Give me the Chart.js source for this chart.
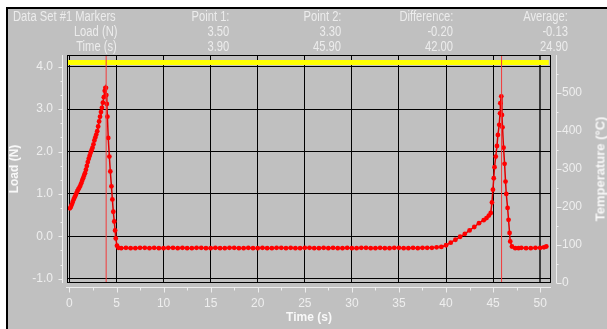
<!DOCTYPE html>
<html>
<head>
<meta charset="utf-8">
<script src="https://cdn.jsdelivr.net/npm/chart.js@4/dist/chart.umd.min.js"></script>
<style>
  html,body{margin:0;padding:0;background:#fff;width:607px;height:329px;overflow:hidden;}
  #frame{position:absolute;left:6px;top:7px;width:601px;height:322px;background:#c0c0c0;border-left:2px solid #000;border-top:2px solid #000;box-sizing:border-box;}
  #c{position:absolute;left:0;top:0;}
  .h{position:absolute;font-family:'Liberation Sans',Arial,sans-serif;font-size:14px;color:#ececec;white-space:nowrap;line-height:14px;transform:scaleX(0.8);}
  .l{transform-origin:left center;}
  .r{transform-origin:right center;}
  #ytitle2{position:absolute;left:600px;top:169px;transform:translate(-50%,-50%) rotate(-90deg);font:bold 13px 'Liberation Sans',Arial,sans-serif;color:#f8f8f8;white-space:nowrap;}
</style>
</head>
<body>
<div id="frame"></div>
<canvas id="c" width="607" height="329"></canvas>
<div id="hdr"></div>
<div id="ytitle2">Temperature (°C)</div>
<script>
// ---------------- data ----------------
const headerTitle = 'Data Set #1 Markers';
const headerCols = ['Point 1:', 'Point 2:', 'Difference:', 'Average:'];
const rowNames = ['Load (N)', 'Time (s)'];
const loadRow = ['3.50', '3.30', '-0.20', '-0.13'];
const timeRow = ['3.90', '45.90', '42.00', '24.90'];

const xTicks = [0, 5, 10, 15, 20, 25, 30, 35, 40, 45, 50];
const yTicks = [-1, 0, 1, 2, 3, 4];
const y2Ticks = [0, 100, 200, 300, 400, 500];

const markerTimes = [3.9, 45.9];

const tempTime = [0, 50.65];
const tempValue = [581, 581];

const loadTime = [
  0.05,0.15,0.25,0.35,0.45,0.55,0.65,0.75,0.85,0.95,
  1.05,1.15,1.25,1.35,1.45,1.55,1.65,1.75,1.85,1.95,
  2.05,2.15,2.25,2.35,2.45,2.55,2.65,2.75,2.85,2.95,
  3.05,3.15,3.25,3.35,3.45,3.55,3.65,3.75,3.82,3.88,
  3.92,3.97,4.03,4.12,4.24,4.34,4.46,4.56,4.66,4.76,4.85,4.92,5.05,5.2,
  5.5,6,6.5,7,7.5,8,8.5,9,9.5,10,10.5,11,11.5,12,12.5,13,13.5,14,14.5,15,
  15.5,16,16.5,17,17.5,18,18.5,19,19.5,20,20.5,21,21.5,22,22.5,23,23.5,24,24.5,25,
  25.5,26,26.5,27,27.5,28,28.5,29,29.5,30,30.5,31,31.5,32,32.5,33,33.5,34,34.5,35,
  35.5,36,36.5,37,37.5,38,38.5,39,
  39.5,40,40.5,41,41.5,42,42.5,43,43.5,44,44.3,44.55,44.75,
  44.88,44.98,45.07,45.15,45.28,45.41,45.51,45.65,45.74,45.77,45.87,
  45.94,46.0,46.11,46.22,46.32,46.4,46.54,46.64,46.75,46.82,47.0,47.35,
  47.7,48,48.5,49,49.5,50,50.4,50.65
];
const loadValue = [
  0.66,0.70,0.75,0.81,0.87,0.92,0.97,1.02,1.07,1.11,
  1.15,1.19,1.25,1.31,1.37,1.43,1.49,1.57,1.66,1.75,
  1.83,1.90,1.97,2.03,2.09,2.17,2.26,2.33,2.40,2.48,
  2.59,2.71,2.82,2.93,3.03,3.15,3.28,3.43,3.50,3.50,
  3.33,3.12,2.82,2.32,1.88,1.53,1.18,0.87,0.58,0.35,0.14,-0.05,-0.22,-0.27,
  -0.28,-0.27,-0.28,-0.28,-0.27,-0.27,-0.28,-0.27,-0.28,-0.28,-0.27,-0.27,-0.28,-0.27,-0.28,-0.28,-0.27,-0.27,-0.28,-0.28,
  -0.27,-0.28,-0.28,-0.27,-0.27,-0.28,-0.28,-0.27,-0.28,-0.28,-0.27,-0.28,-0.28,-0.27,-0.27,-0.28,-0.27,-0.28,-0.28,-0.27,
  -0.27,-0.28,-0.28,-0.27,-0.28,-0.27,-0.28,-0.28,-0.27,-0.28,-0.28,-0.27,-0.27,-0.28,-0.28,-0.27,-0.28,-0.28,-0.27,-0.27,
  -0.28,-0.28,-0.27,-0.28,-0.27,-0.27,-0.27,-0.26,
  -0.25,-0.21,-0.15,-0.08,-0.01,0.06,0.14,0.22,0.31,0.38,0.43,0.49,0.55,
  0.80,1.10,1.37,1.63,1.88,2.13,2.39,2.63,2.90,3.14,3.30,
  2.86,2.57,2.09,1.71,1.29,1.00,0.67,0.39,0.08,-0.12,-0.24,-0.28,
  -0.28,-0.27,-0.28,-0.28,-0.27,-0.27,-0.26,-0.24
];

// ---------------- header (real text) ----------------
const hdr = document.getElementById('hdr');
const colRight = [117, 229, 341, 453, 568];
const rowTop = [9, 24, 39];
function addText(txt, x, y, right){
  const d = document.createElement('div');
  d.className = 'h ' + (right ? 'r' : 'l');
  if (right) d.style.right = (607 - x) + 'px'; else d.style.left = x + 'px';
  d.style.top = y + 'px';
  d.textContent = txt; hdr.appendChild(d);
}
addText(headerTitle, 13, rowTop[0], false);
headerCols.forEach((t,i)=>addText(t, colRight[i+1], rowTop[0], true));
addText(rowNames[0], colRight[0], rowTop[1], true);
loadRow.forEach((t,i)=>addText(t, colRight[i+1], rowTop[1], true));
addText(rowNames[1], colRight[0], rowTop[2], true);
timeRow.forEach((t,i)=>addText(t, colRight[i+1], rowTop[2], true));

// ---------------- chart ----------------
const TICKFONT = {family:"'Liberation Sans',Arial,sans-serif", size:12};
const TITLEFONT = {family:"'Liberation Sans',Arial,sans-serif", size:12, weight:'bold'};
const LIGHT = '#eeeeee';

const rulerPlugin = {
  id:'rulers',
  afterDatasetsDraw(chart){
    const {ctx, chartArea:a, scales} = chart;
    ctx.save();
    ctx.strokeStyle = '#000'; ctx.lineWidth = 1;
    ctx.strokeRect(Math.round(a.left)+0.5, Math.round(a.top)+0.5, Math.round(a.right-a.left)-1, Math.round(a.bottom-a.top)-1);
    ctx.strokeStyle = LIGHT; ctx.lineWidth = 1;
    const xs = scales.x, ry = 287.5;
    ctx.beginPath(); ctx.moveTo(a.left-1, ry); ctx.lineTo(a.right, ry); ctx.stroke();
    for (let v = 0; v <= 50; v += 2.5){
      const px = Math.round(xs.getPixelForValue(v)) + 0.5;
      const len = (v % 5 === 0) ? 5 : 3;
      ctx.beginPath(); ctx.moveTo(px, ry); ctx.lineTo(px, ry+len); ctx.stroke();
    }
    const ys = scales.y, lx = 62.5;
    ctx.beginPath(); ctx.moveTo(lx, a.top); ctx.lineTo(lx, a.bottom); ctx.stroke();
    for (let k = -3; k <= 12; k++){
      const v = k/3; const py = Math.round(ys.getPixelForValue(v)) + 0.5;
      if (py < a.top || py > a.bottom) continue;
      const len = (k % 3 === 0) ? 4 : 2;
      ctx.beginPath(); ctx.moveTo(lx, py); ctx.lineTo(lx-len, py); ctx.stroke();
    }
    const y2 = scales.y2, rx = 556.5;
    ctx.beginPath(); ctx.moveTo(rx, a.top); ctx.lineTo(rx, a.bottom); ctx.stroke();
    for (let v = 0; v <= 550; v += 50){
      const py = Math.round(y2.getPixelForValue(v)) + 0.5;
      const len = (v % 100 === 0) ? 5 : 2;
      ctx.beginPath(); ctx.moveTo(rx, py); ctx.lineTo(rx+len, py); ctx.stroke();
    }
    ctx.restore();
  }
};

const pts = (xs, ys) => xs.map((x,i)=>({x, y: ys[i]}));

const datasets = [];
markerTimes.forEach(t => datasets.push({
  data:[{x:t,y:-1.2},{x:t,y:4.4}], yAxisID:'y', borderColor:'#f23a3a', borderWidth:1,
  pointRadius:0, order:0
}));
datasets.push({
  data: pts(loadTime, loadValue), yAxisID:'y', borderColor:'#e00000', borderWidth:1.5,
  pointRadius:2.4, pointBackgroundColor:'#ff0000', pointBorderWidth:0, pointHoverRadius:0, order:1
});
datasets.push({
  data: pts(tempTime, tempValue), yAxisID:'y2', borderColor:'#ffff00', borderWidth:5,
  borderCapStyle:'square', pointRadius:0, order:2
});

new Chart(document.getElementById('c'), {
  type:'line',
  data:{datasets},
  options:{
    responsive:false, animation:false, devicePixelRatio:1,
    layout:{padding:{top:55, left:0, right:0, bottom:0}},
    plugins:{legend:{display:false}, tooltip:{enabled:false}},
    elements:{line:{tension:0}},
    scales:{
      x:{
        type:'linear', position:'bottom', min:-0.26, max:51.15,
        afterBuildTicks: s => { s.ticks = xTicks.map(v=>({value:v})); },
        afterFit: s => { s.height = 46; },
        grid:{color: c => c.tick && c.tick.value === 50 ? '#3c3c3c' : '#000',
              lineWidth: c => c.tick && c.tick.value === 50 ? 2 : 1, drawTicks:false},
        border:{display:false},
        ticks:{color:LIGHT, font:TICKFONT, padding:13, autoSkip:false, maxRotation:0},
        title:{display:true, text:'Time (s)', color:'#f8f8f8', font:TITLEFONT, padding:{top:0, bottom:4}}
      },
      y:{
        type:'linear', position:'left', min:-1.1, max:4.275,
        afterBuildTicks: s => { s.ticks = yTicks.map(v=>({value:v})); },
        afterFit: s => { s.width = 67; },
        grid:{color:'#000', lineWidth:1, drawTicks:false},
        border:{display:false},
        ticks:{color:LIGHT, font:TICKFONT, padding:14, callback: v => Number(v).toFixed(1)},
        title:{display:true, text:'Load (N)', color:'#f8f8f8', font:TITLEFONT, padding:{top:7, bottom:0}}
      },
      y2:{
        type:'linear', position:'right', min:0, max:600.5,
        afterBuildTicks: s => { s.ticks = y2Ticks.map(v=>({value:v})); },
        afterFit: s => { s.width = 56; },
        grid:{drawOnChartArea:false, drawTicks:false},
        border:{display:false},
        ticks:{color:LIGHT, font:TICKFONT, padding:11}
      }
    }
  },
  plugins:[rulerPlugin]
});
</script>
</body>
</html>
